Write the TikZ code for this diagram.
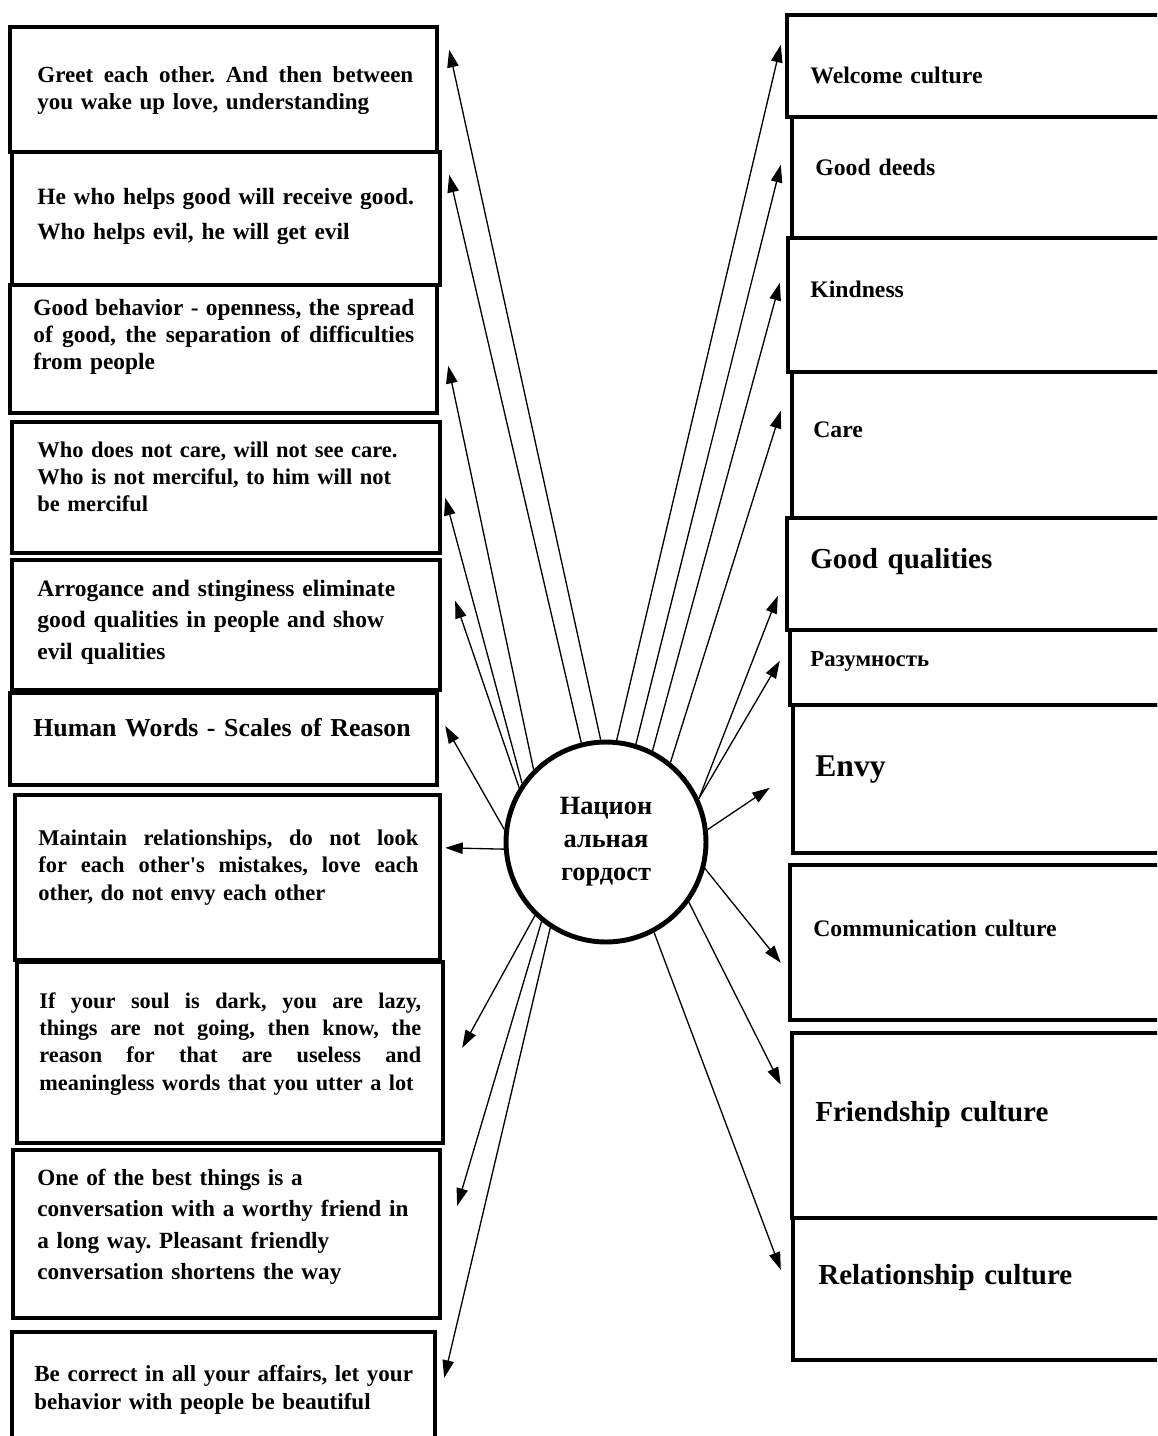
\documentclass[tikz,border=0pt]{standalone}
\usepackage{fontspec}
\setmainfont{Liberation Serif}
\usetikzlibrary{arrows.meta, fit}
\newcommand{\riga}[2]{\makebox[#1][s]{\spaceskip=0.25em plus 3em minus 0.05em\relax #2}}

\begin{document}
\frenchspacing
\begin{tikzpicture}[x = 0.02cm, y = -0.02cm,
    riquadro/.style = {draw, line width = 2.5pt, inner sep = 0pt},
    testo/.style = {anchor = base west, inner sep = 0pt, align = left, text width = 8cm, font = \bfseries\fontsize{13.5}{15.6}\selectfont},
    corpo/.style 2 args = {font = \bfseries\fontsize{#1}{#2}\selectfont},
    grande/.style = {corpo = {16.5}{19}},
    freccia/.style = {-{Triangle[length = 10pt, width = 6.5pt]}, line width = 0.75pt}]
    % Cornice
    \useasboundingbox (0,0) rectangle (1157,1436);
    \clip (0,0) rectangle (1157,1436);
    % Nodo centrale
    \node[draw, circle, line width = 2.8pt, minimum size = 4cm, inner sep = 0pt, align = center, corpo = {15}{18.7}] (c) at (606,842) {Национ\\альная\\гордост};
    % Riquadri a sinistra
    \node[riquadro, fit = {(10,27) (437,152)}] (L1) {};
    \node[riquadro, fit = {(12,152) (440,285)}] (L2) {};
    \node[riquadro, fit = {(10,285) (437,413)}] (L3) {};
    \node[riquadro, fit = {(12,422) (440,553)}] (L4) {};
    \node[riquadro, fit = {(12,560) (440,690)}] (L5) {};
    \node[riquadro, fit = {(10,693) (437,785)}] (L6) {};
    \node[riquadro, fit = {(15,795) (440,960)}] (L7) {};
    \node[riquadro, fit = {(17,962) (443,1143)}] (L8) {};
    \node[riquadro, fit = {(13,1150) (440,1318)}] (L9) {};
    \node[riquadro, fit = {(12,1332) (435,1470)}] (L10) {};
    % Testi a sinistra
    \node[testo, corpo = {13.1}{15.3}] (T1) at (37,83) {\riga{7.52cm}{Greet each other. And then between}\\you wake up love, understanding};
    \node[testo, corpo = {13.3}{19.8}] (T2) at (37,205) {He who helps good will receive good.\\Who helps evil, he will get evil};
    \node[testo, corpo = {13.3}{15.6}] (T3) at (33,315) {\riga{7.62cm}{Good behavior - openness, the spread}\\\riga{7.62cm}{of good, the separation of difficulties}\\from people};
    \node[testo, corpo = {12.8}{15.6}] (T4) at (37,457) {Who does not care, will not see care.\\Who is not merciful, to him will not\\be merciful};
    \node[testo, corpo = {13.4}{18.1}] (T5) at (37,596) {Arrogance and stinginess eliminate\\good qualities in people and show\\evil qualities};
    \node[testo, corpo = {14.7}{17}] (T6) at (33,736) {Human Words - Scales of Reason};
    \node[testo, corpo = {12.8}{15.9}] (T7) at (38,845) {\riga{7.6cm}{Maintain relationships, do not look}\\\riga{7.6cm}{for each other\textquotesingle s mistakes, love each}\\other, do not envy each other};
    \node[testo, corpo = {12.7}{15.6}] (T8) at (39,1008) {\riga{7.64cm}{If your soul is dark, you are lazy,}\\\riga{7.64cm}{things are not going, then know, the}\\\riga{7.64cm}{reason for that are useless and}\\meaningless words that you utter a lot};
    \node[testo, corpo = {13.2}{18}] (T9) at (37,1185) {One of the best things is a\\conversation with a worthy friend in\\a long way. Pleasant friendly\\conversation shortens the way};
    \node[testo, corpo = {13.1}{16.4}] (T10) at (34,1381) {Be correct in all your affairs, let your\\behavior with people be beautiful};
    % Riquadri a destra
    \node[riquadro, fit = {(787,15) (1200,117)}] (R1) {};
    \node[riquadro, fit = {(792,117) (1200,238)}] (R2) {};
    \node[riquadro, fit = {(788,238) (1200,372)}] (R3) {};
    \node[riquadro, fit = {(792,372) (1200,518)}] (R4) {};
    \node[riquadro, fit = {(787,518) (1200,630)}] (R5) {};
    \node[riquadro, fit = {(790,630) (1200,705)}] (R6) {};
    \node[riquadro, fit = {(793,705) (1200,853)}] (R7) {};
    \node[riquadro, fit = {(790,865) (1200,1020)}] (R8) {};
    \node[riquadro, fit = {(792,1033) (1200,1218)}] (R9) {};
    \node[riquadro, fit = {(793,1218) (1200,1360)}] (R10) {};
    % Testi a destra
    \node[testo] (S1) at (810,84) {Welcome culture};
    \node[testo] (S2) at (815,176) {Good deeds};
    \node[testo] (S3) at (810,297) {Kindness};
    \node[testo] (S4) at (813,437) {Care};
    \node[testo, grande] (S5) at (810,568) {Good qualities};
    \node[testo, corpo = {13}{15}] (S6) at (810,666) {Разумность};
    \node[testo, corpo = {18}{20}] (S7) at (815,776) {Envy};
    \node[testo] (S8) at (813,936) {Communication culture};
    \node[testo, grande] (S9) at (815,1121) {Friendship culture};
    \node[testo, grande] (S10) at (818,1284) {Relationship culture};
    % Frecce a sinistra
    \draw[freccia] (c.93) -- ([shift = {(10,25)}]L1.north east);
    \draw[freccia] (c.104) -- ([shift = {(7,25)}]L2.north east);
    \draw[freccia] (c.135) -- ([shift = {(9,83)}]L3.north east);
    \draw[freccia] (c.145) -- ([shift = {(3,78)}]L4.north east);
    \draw[freccia] (c.148) -- ([shift = {(13,43)}]L5.north east);
    \draw[freccia] (c.173) -- ([shift = {(6,35)}]L6.north east);
    \draw[freccia] (c.184) -- ([shift = {(3,55)}]L7.north east);
    \draw[freccia] (c.226) -- ([shift = {(17,88)}]L8.north east);
    \draw[freccia] (c.231) -- ([shift = {(15,58)}]L9.north east);
    \draw[freccia] (c.237) -- ([shift = {(7,48)}]L10.north east);
    % Frecce a destra
    \draw[freccia] (c.84) -- ([shift = {(-4,32)}]R1.north west);
    \draw[freccia] (c.73) -- ([shift = {(-9,50)}]R2.north west);
    \draw[freccia] (c.63) -- ([shift = {(-6,47)}]R3.north west);
    \draw[freccia] (c.51) -- ([shift = {(-9,41)}]R4.north west);
    \draw[freccia] (c.25) -- ([shift = {(-7,80)}]R5.north west);
    \draw[freccia] (c.25) -- ([shift = {(-8,33)}]R6.north west);
    \draw[freccia] (c.7) -- ([shift = {(-21,85)}]R7.north west);
    \draw[freccia] (c.-15) -- ([shift = {(-7,100)}]R8.north west);
    \draw[freccia] (c.-36) -- ([shift = {(-9,54)}]R9.north west);
    \draw[freccia] (c.-62) -- ([shift = {(-10,54)}]R10.north west);
\end{tikzpicture}
\end{document}
